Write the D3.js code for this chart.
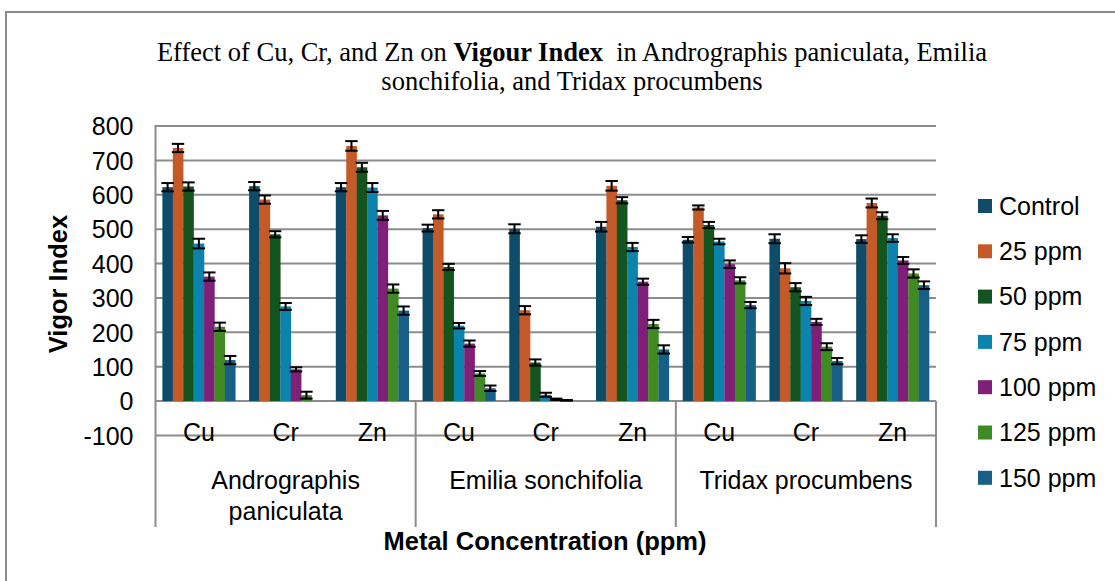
<!DOCTYPE html>
<html><head><meta charset="utf-8">
<script src="https://cdn.jsdelivr.net/npm/d3@7"></script>
<style>
html,body{margin:0;padding:0;background:#fff;}
svg{display:block;}
text{font-family:"Liberation Sans",Arial,sans-serif;fill:#000;}
</style></head>
<body>
<svg id="chart" width="1115" height="581"></svg>
<script>
// ---- data ----
const species = ["Andrographis paniculata", "Emilia sonchifolia", "Tridax procumbens"];
const metals = ["Cu", "Cr", "Zn"];
const seriesNames = ["Control", "25 ppm", "50 ppm", "75 ppm", "100 ppm", "125 ppm", "150 ppm"];
const yTicks = [800, 700, 600, 500, 400, 300, 200, 100, 0, -100];
// values per series across groups: A-Cu, A-Cr, A-Zn, E-Cu, E-Cr, E-Zn, T-Cu, T-Cr, T-Zn
const control = [622, 625, 622, 503, 501, 507, 469, 472, 471];
const ppm25   = [736, 586, 742, 543, 264, 626, 563, 386, 576];
const ppm50   = [624, 485, 680, 390, 112, 584, 512, 331, 539];
const ppm75   = [458, 275, 621, 219, 18, 448, 464, 291, 474];
const ppm100  = [362, 92, 540, 167, 5, 347, 398, 230, 409];
const ppm125  = [216, 17, 327, 80, 2, 224, 351, 158, 371];
const ppm150  = [119, 0, 263, 37, 0, 150, 279, 116, 337];
// error bar half-widths
const errControl = [12, 12, 12, 10, 13, 14, 8, 13, 11];
const err25      = [12, 12, 14, 12, 12, 14, 6, 15, 13];
const err50      = [12, 9, 13, 9, 9, 9, 9, 12, 10];
const err75      = [14, 10, 13, 8, 6, 12, 8, 12, 11];
const err100     = [12, 6, 13, 9, 2, 9, 11, 9, 10];
const err125     = [12, 10, 12, 7, 1, 12, 9, 10, 12];
const err150     = [12, 0, 12, 8, 0, 12, 9, 9, 11];

const seriesValues = [control, ppm25, ppm50, ppm75, ppm100, ppm125, ppm150];
const seriesErrors = [errControl, err25, err50, err75, err100, err125, err150];
const colors = ["#0f4c6a", "#c35a27", "#13541f", "#0b83ad", "#7f1f77", "#3f8a22", "#175f86"];

// ---- layout ----
const svg = d3.select("#chart");
const L = 155.5, R = 936, T = 126, B0 = 401;
const gridCol = "#8c8c8c";

const groups = [];
species.forEach((s, i) => metals.forEach((m, j) => groups.push({key: i + "-" + j, species: s, metal: m, si: i})));

const y = d3.scaleLinear().domain([-100, 800]).range([B0 + (B0 - T) / 8, T]);
const x0 = d3.scaleBand().domain(groups.map(g => g.key)).range([L, R]).padding(0);
const x1 = d3.scaleBand().domain(seriesNames).range([0, x0.bandwidth()]).paddingInner(0).paddingOuter(0.66);
const xs = d3.scaleBand().domain(species).range([L, R]).padding(0);

// outer frame
svg.append("line").attr("x1", 5).attr("x2", 1115).attr("y1", 12).attr("y2", 12).attr("stroke", "#8a8a8a").attr("stroke-width", 2);
svg.append("line").attr("x1", 6).attr("x2", 6).attr("y1", 11).attr("y2", 581).attr("stroke", "#8a8a8a").attr("stroke-width", 2);

// title
const title = svg.append("text").attr("text-anchor", "middle")
  .style("font-family", '"Liberation Serif","Times New Roman",serif').style("font-size", "26.5px");
const t1 = title.append("tspan").attr("x", 572).attr("y", 61);
t1.append("tspan").text("Effect of Cu, Cr, and Zn on ");
t1.append("tspan").style("font-weight", "bold").text("Vigour Index");
t1.append("tspan").style("white-space", "pre").text("  in Andrographis paniculata, Emilia");
title.append("tspan").attr("x", 572).attr("y", 90).text("sonchifolia, and Tridax procumbens");

// gridlines
svg.append("g").selectAll("line").data(yTicks).join("line")
  .attr("x1", L).attr("x2", R)
  .attr("y1", d => y(d)).attr("y2", d => y(d))
  .attr("stroke", gridCol).attr("stroke-width", 2);

// y axis line
svg.append("line").attr("x1", L).attr("x2", L).attr("y1", T - 1).attr("y2", 527)
  .attr("stroke", gridCol).attr("stroke-width", 2);

// category separators
const seps = [xs("Emilia sonchifolia"), xs("Tridax procumbens"), R];
svg.append("g").selectAll("line").data(seps).join("line")
  .attr("x1", d => d).attr("x2", d => d).attr("y1", B0).attr("y2", 527)
  .attr("stroke", gridCol).attr("stroke-width", 2);

// y tick labels via axis
const yAxis = d3.axisLeft(y).tickValues(yTicks).tickSize(0).tickPadding(0).tickFormat(d => String(d));
const ya = svg.append("g").attr("transform", `translate(${L - 22},0)`).call(yAxis);
ya.select(".domain").remove();
ya.selectAll("text").style("font-family", '"Liberation Sans",Arial,sans-serif').style("font-size", "25px").attr("dy", "0.35em").attr("fill", "#000");

// bars
const barG = svg.append("g");
seriesNames.forEach((name, si) => {
  const vals = seriesValues[si];
  barG.append("g").selectAll("rect").data(groups).join("rect")
    .attr("x", (g) => x0(g.key) + x1(name))
    .attr("width", x1.bandwidth() + 0.2)
    .attr("y", (g, i) => y(Math.max(0, vals[i])))
    .attr("height", (g, i) => Math.abs(y(vals[i]) - y(0)))
    .attr("fill", colors[si]);
});

// error bars
const errG = svg.append("g").attr("stroke", "#000").attr("stroke-width", 2);
seriesNames.forEach((name, si) => {
  const vals = seriesValues[si], errs = seriesErrors[si];
  groups.forEach((g, i) => {
    if (vals[i] <= 0) return;
    const cx = x0(g.key) + x1(name) + x1.bandwidth() / 2;
    const hw = x1.bandwidth() / 2 + 1;
    const yt = y(vals[i] + errs[i]), yb = y(vals[i] - errs[i]);
    errG.append("line").attr("x1", cx).attr("x2", cx).attr("y1", yt).attr("y2", yb);
    errG.append("line").attr("x1", cx - hw).attr("x2", cx + hw).attr("y1", yt).attr("y2", yt);
    errG.append("line").attr("x1", cx - hw).attr("x2", cx + hw).attr("y1", yb).attr("y2", yb);
  });
});

// metal labels
svg.append("g").selectAll("text").data(groups).join("text")
  .attr("x", g => x0(g.key) + x0.bandwidth() / 2).attr("y", 441)
  .attr("text-anchor", "middle").style("font-size", "25px").text(g => g.metal);

// species labels
const spLines = [["Andrographis", "paniculata"], ["Emilia sonchifolia"], ["Tridax procumbens"]];
species.forEach((s, i) => {
  const t = svg.append("text").attr("text-anchor", "middle").style("font-size", "25px");
  spLines[i].forEach((ln, k) => {
    t.append("tspan").attr("x", xs(s) + xs.bandwidth() / 2).attr("y", 489 + k * 31).text(ln);
  });
});

// axis titles
svg.append("text").attr("x", 545).attr("y", 550).attr("text-anchor", "middle")
  .style("font-size", "25.5px").style("font-weight", "bold").text("Metal Concentration (ppm)");
svg.append("text").attr("transform", "translate(67,284) rotate(-90)").attr("text-anchor", "middle")
  .style("font-size", "25.5px").style("font-weight", "bold").text("Vigor Index");

// legend
const leg = svg.append("g");
seriesNames.forEach((name, i) => {
  const cy = 206 + i * 45.3;
  leg.append("rect").attr("x", 978).attr("y", cy - 7).attr("width", 14).attr("height", 14).attr("fill", colors[i]);
  leg.append("text").attr("x", 999).attr("y", cy).attr("dy", "0.35em").style("font-size", "25px").text(name);
});
</script>
</body></html>
